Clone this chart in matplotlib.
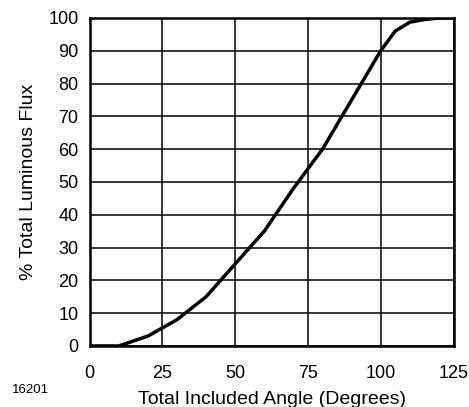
import matplotlib
matplotlib.use("Agg")
import matplotlib.pyplot as plt

plt.rcParams['font.family'] = ['Liberation Sans', 'DejaVu Sans']

# % total luminous flux vs total included angle
angle = [0, 10, 20, 30, 40, 50, 60, 70, 80, 90, 100, 105, 110, 115, 120, 125]
flux = [0, 0, 3, 8, 15, 25, 35, 48, 60, 75, 90, 96, 98.7, 99.5, 100, 100]

x_ticks = [0, 25, 50, 75, 100, 125]
y_ticks = list(range(0, 101, 10))

fig = plt.figure(figsize=(4.69, 4.07), dpi=100)
ax = fig.add_axes([0.191, 0.150, 0.776, 0.806])

ax.plot(angle, flux, color='black', lw=2.5, solid_joinstyle='miter', zorder=3)

ax.set_xlim(0, 125)
ax.set_ylim(0, 100)
ax.set_xticks(x_ticks)
ax.set_yticks(y_ticks)
ax.grid(True, color='black', lw=1.1)
ax.tick_params(length=0, labelsize=13)
ax.tick_params(axis='x', pad=13.5)
ax.tick_params(axis='y', pad=8)
for s in ax.spines.values():
    s.set_linewidth(1.8)

ax.set_xlabel('Total Included Angle (Degrees)', fontsize=14, labelpad=7)
ax.set_ylabel('% Total Luminous Flux', fontsize=14, labelpad=8)
fig.text(0.026, 0.035, '16201', fontsize=9.5, va='baseline')

fig.savefig('out.png', dpi=100)
